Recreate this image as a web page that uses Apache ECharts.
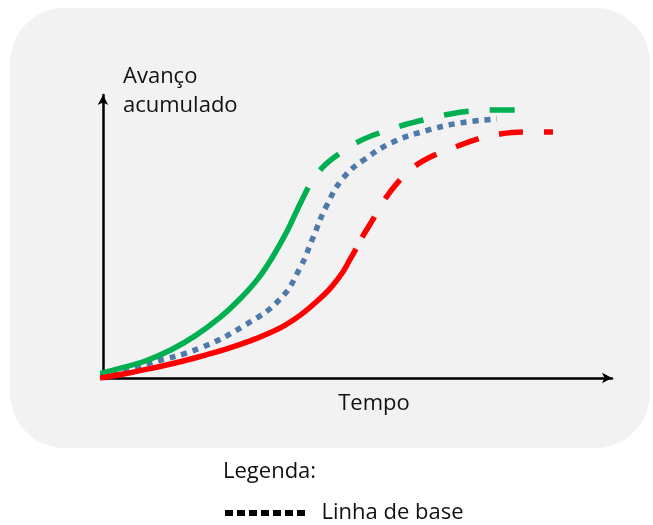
<!DOCTYPE html>
<html>
<head>
<meta charset="utf-8">
<script src="https://cdn.jsdelivr.net/npm/echarts@6/dist/echarts.min.js"></script>
<style>
  html, body { margin: 0; padding: 0; background: #fff; }
  #chart { width: 653px; height: 525px; }
</style>
</head>
<body>
<div id="chart"></div>
<script>
// curva adiantada (verde): realizado + tendência
var greenActual = [[-1.0, 1.4], [3.3, 3.4], [8.3, 6.0], [13.2, 9.8], [18.1, 14.9], [23.0, 21.4], [26.9, 27.9], [30.5, 35.2], [33.2, 42.4], [36.0, 51.3], [38.3, 60.0], [40.3, 67.3]];
var greenForecast = [[40.3, 67.3], [43.0, 74.2], [46.6, 79.5], [50.5, 83.8], [54.8, 86.9], [59.1, 89.4], [63.7, 91.5], [68.2, 93.3], [72.9, 94.4], [77.2, 94.7], [81.3, 94.7]];
// linha de base (azul pontilhada)
var baseline = [[-0.6, 0.7], [9.2, 5.3], [19.1, 10.6], [27.9, 18.7], [34.8, 27.9], [38.7, 38.9], [41.3, 49.8], [43.8, 60.4], [47.2, 70.7], [51.5, 77.4], [57.0, 83.4], [63.3, 87.3], [70.1, 90.1], [77.4, 91.5]];
// curva atrasada (vermelha): realizado + tendência
var redActual = [[-0.6, 0], [4.3, 1.5], [9.2, 3.3], [14.2, 5.3], [19.1, 7.6], [24.0, 10.1], [28.9, 13.1], [32.8, 16.0], [35.8, 18.7], [38.9, 22.4], [42.2, 27.4], [44.6, 31.6], [47.0, 37.1], [48.5, 41.8], [49.7, 45.6]];
var redForecast = [[49.7, 45.6], [51.3, 50.9], [53.1, 56.2], [55.0, 62.2], [58.0, 69.3], [61.1, 74.6], [64.8, 78.5], [69.2, 81.6], [73.7, 84.5], [78.0, 86.2], [82.5, 86.9], [88.4, 86.9]];

var FONT = 'Open Sans';
var dotsIcon = 'path://M0,0h8v6h-8zM12,0h8v6h-8zM24,0h8v6h-8zM36,0h8v6h-8zM48,0h8v6h-8zM60,0h8v6h-8zM72,0h8v6h-8z';

function lineSeries(name, data, color, dash, offset, smooth) {
  return {
    name: name,
    type: 'line',
    data: data,
    smooth: smooth,
    showSymbol: false,
    clip: false,
    lineStyle: { color: color, width: 5.5, type: dash, cap: 'butt', dashOffset: offset || 0 },
    itemStyle: { color: color }
  };
}

var chart = echarts.init(document.getElementById('chart'));
chart.setOption({
  animation: false,
  graphic: [{
    type: 'rect', z: -10, silent: true,
    shape: { x: 10, y: 8, width: 640, height: 440, r: 55 },
    style: { fill: '#f2f2f2' }
  }],
  title: {
    text: 'Legenda:', left: 218, top: 456,
    textStyle: { fontFamily: FONT, fontSize: 22, fontWeight: 'normal', color: '#111' }
  },
  legend: {
    left: 220, top: 497,
    itemWidth: 81, itemHeight: 6,
    data: [{ name: 'Linha de base', icon: dotsIcon, itemStyle: { color: '#000' } }],
    textStyle: { fontFamily: FONT, fontSize: 22, color: '#111', padding: [0, 0, 0, 11] }
  },
  grid: { left: 103, right: 41, top: 95, bottom: 147 },
  xAxis: {
    type: 'value', min: 0, max: 100,
    name: 'Tempo', nameLocation: 'middle', nameGap: 26,
    nameTextStyle: { fontFamily: FONT, fontSize: 22, color: '#111', verticalAlign: 'middle', padding: [0, 0, 0, 33] },
    axisLine: { lineStyle: { color: '#000', width: 2.5 }, symbol: ['none', 'arrow'], symbolSize: [8, 10] },
    axisTick: { show: false }, axisLabel: { show: false }, splitLine: { show: false }
  },
  yAxis: {
    type: 'value', min: 0, max: 100,
    name: 'Avanço\nacumulado', nameLocation: 'end', nameGap: 4,
    nameTextStyle: { fontFamily: FONT, fontSize: 22, color: '#111', align: 'left', verticalAlign: 'middle', lineHeight: 29, padding: [0, 0, 0, 20] },
    axisLine: { lineStyle: { color: '#000', width: 2.5 }, symbol: ['none', 'arrow'], symbolSize: [8, 10] },
    axisTick: { show: false }, axisLabel: { show: false }, splitLine: { show: false }
  },
  series: [
    lineSeries('Linha de base', baseline, '#4e79a8', [6, 6], 0, 0.45),
    lineSeries('Adiantado', greenActual, '#00b050', 'solid', 0, 0.35),
    lineSeries('Adiantado (tendência)', greenForecast, '#00b050', [25, 21], 25, 0.4),
    lineSeries('Atrasado', redActual, '#ff0000', 'solid', 0, 0.35),
    lineSeries('Atrasado (tendência)', redForecast, '#ff0000', [24, 21], 32, 0.4)
  ]
});
</script>
</body>
</html>
